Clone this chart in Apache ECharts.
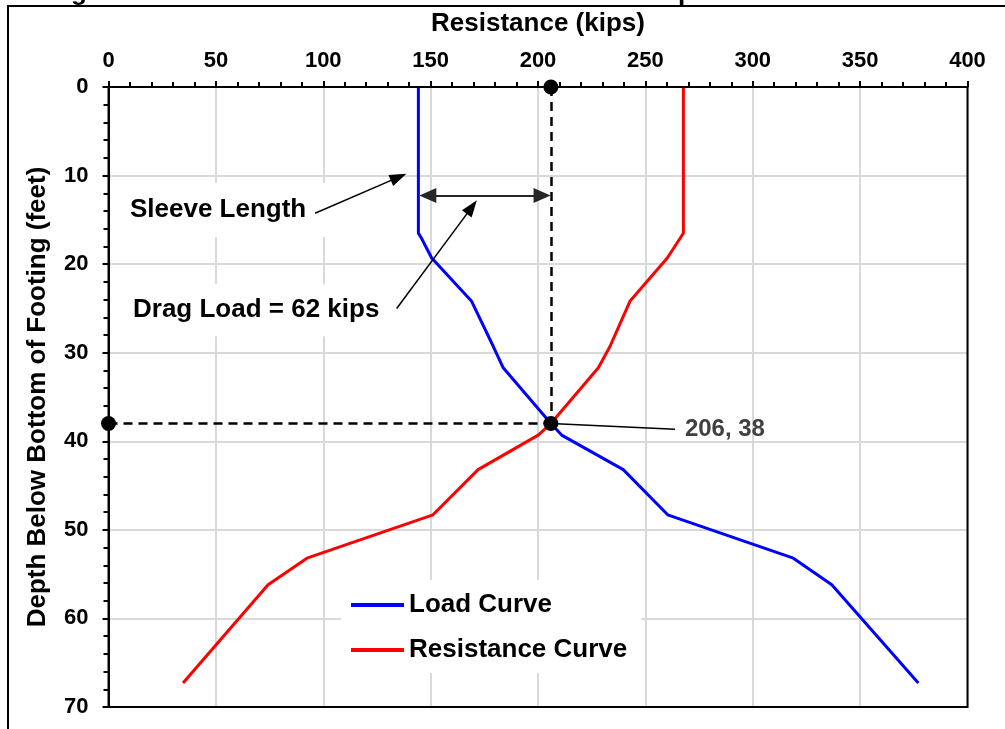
<!DOCTYPE html>
<html>
<head>
<meta charset="utf-8">
<script src="https://cdn.jsdelivr.net/npm/echarts@6/dist/echarts.min.js"></script>
<style>
  html, body { margin: 0; padding: 0; background: #fff; }
  #chart { width: 1005px; height: 729px; }
</style>
</head>
<body>
<div id="chart"></div>
<script>
// Depth below the bottom of the footing (feet) at each curve vertex
const depthFt = [0, 16.5, 17.1, 19.3, 24.2, 29.3, 31.7, 38, 39.3, 43.2, 48.3, 53.2, 56.2, 67.3];
// Axial load in the shaft (kips)
const loadKips = [144.3, 144.3, 145.8, 150.5, 169.1, 179.2, 183.8, 206, 211, 239.7, 260.4, 318.9, 336.8, 377.1];
// Remaining resistance (kips)
const resistanceKips = [267.7, 267.7, 266.1, 260.2, 242.8, 233.5, 228.1, 206, 200.1, 172.1, 151.1, 92.4, 74.3, 34.7];

// Neutral plane: where the two curves cross
const neutralPlane = [206, 38];
const sleeveLoad = 144.3;
const dragLoad = 62;

const seriesNames = ['Load Curve', 'Resistance Curve'];
const titleText = 'Figure 4 – Load and Resistance Curves for the Shop Drilled Shaft Foundation';
const xAxisName = 'Resistance (kips)';
const yAxisName = 'Depth Below Bottom of Footing (feet)';

const X_MIN = 0, X_MAX = 400, Y_MIN = 0, Y_MAX = 70;

const FONT = "'Liberation Sans', Arial, sans-serif";

const pairs = (xs, ys) => xs.map((x, i) => [x, ys[i]]);

const chart = echarts.init(document.getElementById('chart'), null, { renderer: 'canvas' });

const arrowColor = '#262626';

chart.setOption({
  backgroundColor: '#ffffff',
  animation: false,
  textStyle: { fontFamily: FONT },
  grid: { left: 108.5, right: 37.5, top: 87, bottom: 22 },
  xAxis: {
    type: 'value', position: 'top', min: X_MIN, max: X_MAX, interval: 50,
    name: xAxisName, nameLocation: 'middle', nameGap: 50,
    nameTextStyle: { fontFamily: FONT, fontWeight: 'bold', fontSize: 26, color: '#000' },
    axisLine: { show: true, lineStyle: { color: '#000', width: 2 } },
    axisTick: { show: true, inside: false, length: 6, lineStyle: { color: '#000', width: 2 } },
    minorTick: { show: true, splitNumber: 5, length: 5, lineStyle: { color: '#000', width: 2 } },
    axisLabel: { fontFamily: FONT, fontWeight: 'bold', fontSize: 22, color: '#000', margin: 15, showMinLabel: true, showMaxLabel: true },
    splitLine: { show: true, lineStyle: { color: '#d9d9d9', width: 2 } }
  },
  yAxis: {
    type: 'value', inverse: true, min: Y_MIN, max: Y_MAX, interval: 10,
    name: yAxisName, nameLocation: 'middle', nameGap: 58, nameRotate: 90,
    nameTextStyle: { fontFamily: FONT, fontWeight: 'bold', fontSize: 26, color: '#000' },
    axisLine: { show: true, lineStyle: { color: '#000', width: 2 } },
    axisTick: { show: true, length: 6, lineStyle: { color: '#000', width: 2 } },
    minorTick: { show: true, splitNumber: 5, length: 5, lineStyle: { color: '#000', width: 2 } },
    axisLabel: { fontFamily: FONT, fontWeight: 'bold', fontSize: 22, color: '#000', margin: 20, showMinLabel: true, showMaxLabel: true },
    splitLine: { show: true, lineStyle: { color: '#d9d9d9', width: 2 } }
  },
  legend: {
    data: seriesNames,
    orient: 'vertical',
    left: 341, top: 580,
    padding: [12, 14, 10, 10],
    itemGap: 19,
    icon: 'rect', itemWidth: 53, itemHeight: 4,
    backgroundColor: '#ffffff',
    textStyle: { fontFamily: FONT, fontWeight: 'bold', fontSize: 26, color: '#000', padding: [0, 0, 0, 0] }
  },
  series: [
    {
      name: seriesNames[0], type: 'line', data: pairs(loadKips, depthFt),
      symbol: 'none', color: '#0000ff', lineStyle: { width: 3, color: '#0000ff' }, z: 3,
      markLine: {
        silent: true, animation: false, symbol: 'none', label: { show: false },
        emphasis: { disabled: true },
        data: [
          // dashed guides to the neutral plane
          [{ coord: [neutralPlane[0], 0], lineStyle: { type: [9, 6], color: '#000', width: 2.5 } },
           { coord: [neutralPlane[0], neutralPlane[1]] }],
          [{ coord: [0, neutralPlane[1]], lineStyle: { type: [9, 6], color: '#000', width: 2.5 } },
           { coord: [neutralPlane[0], neutralPlane[1]] }],
          // drag-load dimension arrow (symbols are centred on the end points)
          [{ coord: [sleeveLoad + 4.4, 12.26], symbol: 'triangle', symbolSize: [15, 17], lineStyle: { type: 'solid', color: arrowColor, width: 2 } },
           { coord: [sleeveLoad + dragLoad - 4.4, 12.26], symbol: 'triangle', symbolSize: [15, 17] }],
          // sleeve length callout
          [{ coord: [96.2, 14.26], symbol: 'none', lineStyle: { type: 'solid', color: '#000', width: 1.5 } },
           { coord: [135.1, 10.18], symbol: 'triangle', symbolSize: [12, 17] }],
          // drag load callout
          [{ coord: [134.2, 25.0], symbol: 'none', lineStyle: { type: 'solid', color: '#000', width: 1.5 } },
           { coord: [169.2, 13.56], symbol: 'triangle', symbolSize: [12, 17] }],
          // leader to the intersection value
          [{ coord: [neutralPlane[0], neutralPlane[1]], symbol: 'none', lineStyle: { type: 'solid', color: '#000', width: 1.5 } },
           { coord: [263.8, 38.65], symbol: 'none' }]
        ]
      }
    },
    {
      name: seriesNames[1], type: 'line', data: pairs(resistanceKips, depthFt),
      symbol: 'none', color: '#ff0000', lineStyle: { width: 3, color: '#ff0000' }, z: 3
    },
    {
      name: 'Neutral Plane', type: 'scatter', clip: false, z: 5,
      data: [[neutralPlane[0], 0], [0, neutralPlane[1]], neutralPlane.slice()],
      symbol: 'circle', symbolSize: 15, itemStyle: { color: '#000', opacity: 1 }
    }
  ]
});

// Text annotations and frame placed from data coordinates
function px(pt) { return chart.convertToPixel({ gridIndex: 0 }, pt); }

const topLeft = px([X_MIN, Y_MIN]);
const bottomRight = px([X_MAX, Y_MAX]);
const sleeveAt = px([10.0, 13.9]);
const dragAt = px([11.4, 25.2]);
const valueAt = px([268.4, 38.65]);

const boxText = (pos, text, padding) => ({
  type: 'text', z: 1, x: pos[0] - padding[3], y: pos[1],
  style: {
    text: text, font: "bold 26px 'Liberation Sans', Arial, sans-serif", fill: '#000',
    verticalAlign: 'middle', align: 'left',
    backgroundColor: '#ffffff', padding: padding
  }
});

chart.setOption({
  graphic: [
    {
      type: 'text', x: 48, y: 6, z: 10,
      style: { text: titleText, font: "bold 26px 'Liberation Sans', Arial, sans-serif", fill: '#000', verticalAlign: 'bottom', align: 'left' }
    },
    {
      type: 'rect', z: 10, silent: true,
      shape: { x: 8, y: 6, width: 1200, height: 900 },
      style: { fill: 'none', stroke: '#000', lineWidth: 2 }
    },
    {
      // plot-area frame (right and bottom edges)
      type: 'rect', z: 4, silent: true,
      shape: { x: topLeft[0], y: topLeft[1], width: bottomRight[0] - topLeft[0], height: bottomRight[1] - topLeft[1] },
      style: { fill: 'none', stroke: '#000', lineWidth: 2 }
    },
    boxText(sleeveAt, 'Sleeve Length', [14, 20, 14, 10]),
    boxText(dragAt, 'Drag Load = ' + dragLoad + ' kips', [13, 12, 13, 10]),
    {
      type: 'text', z: 6, x: valueAt[0], y: valueAt[1],
      style: { text: neutralPlane[0] + ', ' + neutralPlane[1], font: "bold 24px 'Liberation Sans', Arial, sans-serif", fill: '#404040', verticalAlign: 'middle', align: 'left' }
    }
  ]
});
</script>
</body>
</html>
